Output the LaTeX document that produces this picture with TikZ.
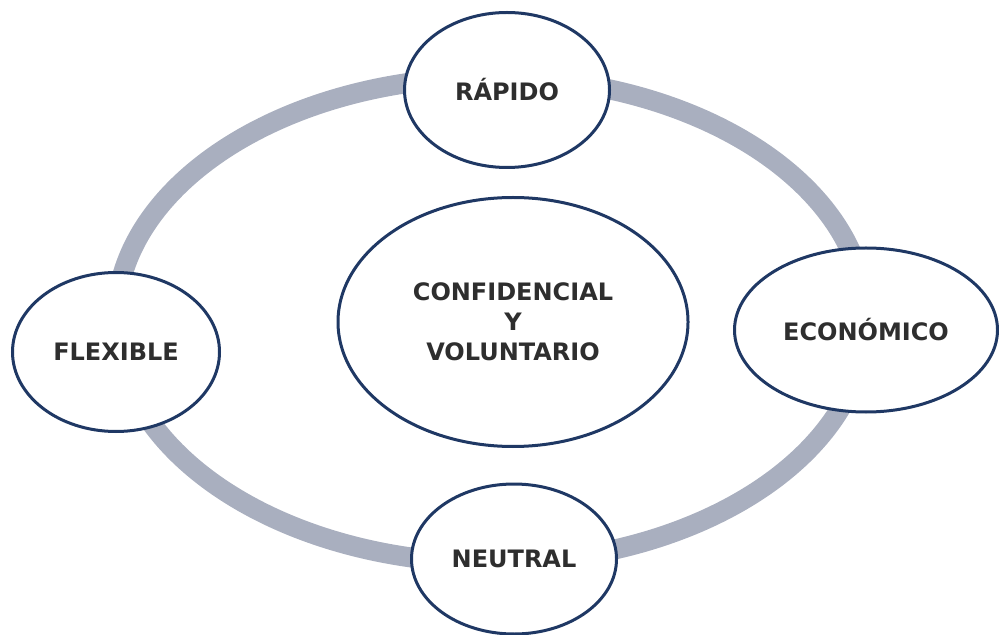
\documentclass[tikz,border=0pt]{standalone}
\usepackage{fontspec}
\setmainfont{DejaVu Sans}
\usetikzlibrary{shapes.geometric}

\definecolor{ringgray}{HTML}{A9AFBF}
\definecolor{navy}{HTML}{1F3864}
\definecolor{txt}{HTML}{2E2E2E}

\tikzset{
    bubble/.style={ellipse, draw=navy, line width=1.5pt, fill=white,
        text=txt, font=\bfseries\fontsize{12}{15}\selectfont, align=center, inner sep=0pt},
}

\begin{document}
\begin{tikzpicture}[x=0.5pt,y=-0.5pt]

\useasboundingbox (0,0) rectangle (999,635);

% ring
\draw[ringgray, line width=10pt] (491,320) ellipse [x radius=375, y radius=243];

\node[bubble, minimum width=175pt, minimum height=124.5pt] (centro) at (513,322)
    {CONFIDENCIAL\\Y\\VOLUNTARIO};

\node[bubble, minimum width=102.5pt, minimum height=77.5pt] (rapido) at (507,90) {RÁPIDO};
\node[bubble, minimum width=131.5pt, minimum height=82pt] (economico) at (866,330) {ECONÓMICO};
\node[bubble, minimum width=103.5pt, minimum height=79.5pt] (flexible) at (116,352) {FLEXIBLE};
\node[bubble, minimum width=102.5pt, minimum height=75pt] (neutral) at (514,559) {NEUTRAL};

\end{tikzpicture}
\end{document}
